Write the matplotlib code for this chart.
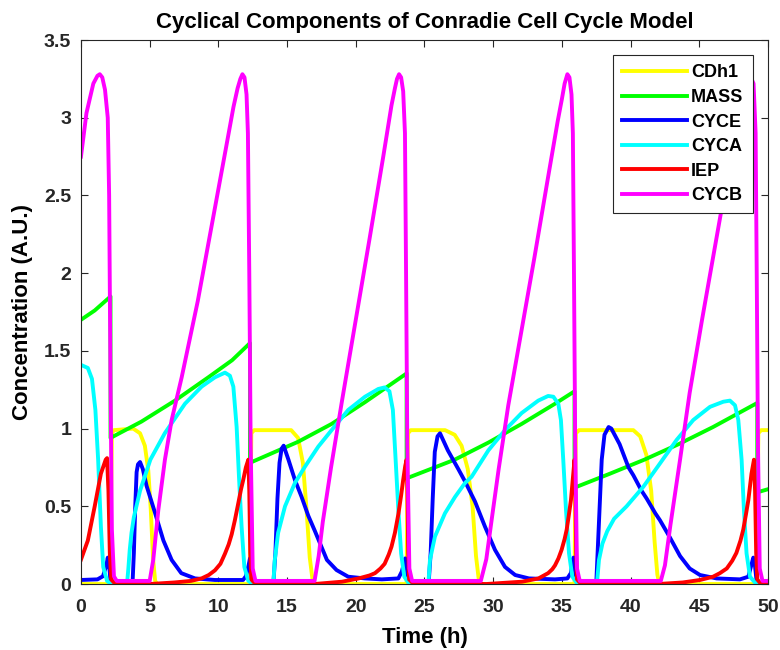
import numpy as np
import matplotlib.pyplot as plt

# values (time in h, concentration in A.U.)
cdh1_t = [0, 2.15, 2.2, 2.25, 2.4, 3.8, 4.3, 4.65, 4.9, 5.08, 5.25, 5.4, 5.55,
          12.3, 12.35, 12.4, 12.6, 15.3, 15.8, 16.15, 16.4, 16.65, 16.85, 17.0,
          23.7, 23.75, 23.8, 24.0, 26.5, 27.2, 27.7, 28.15, 28.5, 28.75, 28.95, 29.1,
          35.92, 35.97, 36.02, 36.25, 40.2, 40.7, 41.15, 41.5, 41.75, 41.95, 42.1,
          49.2, 49.25, 49.3, 49.5, 50]
cdh1_v = [0, 0, 0.6, 0.97, 0.99, 1.0, 0.97, 0.89, 0.73, 0.48, 0.16, 0.02, 0,
          0, 0.6, 0.97, 0.99, 0.99, 0.94, 0.78, 0.5, 0.17, 0.03, 0,
          0, 0.6, 0.97, 0.99, 0.99, 0.96, 0.89, 0.74, 0.5, 0.18, 0.03, 0,
          0, 0.6, 0.97, 0.99, 0.99, 0.95, 0.83, 0.6, 0.27, 0.06, 0,
          0, 0.6, 0.97, 0.99, 0.99]

mass_t = [0, 1.0, 2.15, 2.15, 4.4, 6.84, 9.27, 11.0, 12.3, 12.3, 15.8, 18.24, 20.67, 23.7,
          23.7, 27.2, 29.65, 32.07, 34.5, 35.92, 35.92, 38.5, 41.0, 43.5, 46.0, 49.22, 49.22, 50]
mass_v = [1.70, 1.76, 1.85, 0.94, 1.045, 1.18, 1.33, 1.44, 1.55, 0.78, 0.915, 1.03, 1.17, 1.355,
          0.68, 0.80, 0.91, 1.03, 1.16, 1.24, 0.62, 0.71, 0.80, 0.90, 1.01, 1.165, 0.59, 0.61]

cyce_t = [0, 1.2, 1.6, 1.85, 1.95, 2.05, 2.15, 2.3, 3.75, 3.85, 3.95, 4.05, 4.15, 4.3, 4.5,
          4.78, 5.1, 5.4, 6.0, 6.6, 7.3, 8.3, 9.75, 11.8, 12.0, 12.2, 12.3, 12.4, 12.5,
          14.0, 14.15, 14.3, 14.45, 14.6, 14.75, 15.1, 15.57, 16.06, 16.54, 17.03, 17.5, 17.9,
          18.6, 19.45, 20.67, 21.9, 23.1, 23.35, 23.6, 23.72, 23.8, 23.9,
          25.3, 25.45, 25.6, 25.75, 25.95, 26.13, 26.7, 27.46, 27.95, 28.68, 29.4, 30.13,
          30.86, 31.6, 32.6, 34.5, 35.4, 35.65, 35.85, 35.95, 36.03, 36.15,
          37.5, 37.6, 37.75, 37.9, 38.1, 38.4, 38.6, 39.2, 39.85, 40.2, 40.8, 41.17, 41.8,
          42.14, 42.86, 43.6, 44.3, 45.05, 46.26, 47.96, 48.57, 48.93, 49.05, 49.17, 49.3, 50]
cyce_v = [0.026, 0.03, 0.05, 0.12, 0.17, 0.12, 0.02, 0, 0, 0.2, 0.5, 0.72, 0.77, 0.785, 0.74,
          0.63, 0.54, 0.455, 0.28, 0.155, 0.07, 0.036, 0.026, 0.026, 0.05, 0.12, 0.165, 0.08, 0,
          0, 0.2, 0.55, 0.78, 0.87, 0.89, 0.8, 0.67, 0.56, 0.44, 0.34, 0.24, 0.155,
          0.09, 0.047, 0.036, 0.03, 0.036, 0.08, 0.165, 0.1, 0.02, 0,
          0, 0.2, 0.55, 0.85, 0.95, 0.97, 0.86, 0.74, 0.66, 0.53, 0.37, 0.22,
          0.11, 0.058, 0.036, 0.03, 0.036, 0.07, 0.17, 0.1, 0.02, 0,
          0, 0.2, 0.5, 0.8, 0.96, 1.01, 1.0, 0.9, 0.75, 0.7, 0.6, 0.55, 0.455,
          0.41, 0.3, 0.18, 0.10, 0.058, 0.036, 0.03, 0.047, 0.17, 0.12, 0.02, 0, 0]

cyca_t = [0, 0.5, 0.8, 1.05, 1.25, 1.45, 1.62, 1.9, 2.2, 3.35, 3.45, 3.55, 3.68, 3.85, 4.3,
          5.05, 6.1, 7.57, 8.78, 9.75, 10.48, 10.84, 11.09, 11.33, 11.5, 11.69, 11.89, 12.18,
          12.5, 14.0, 14.1, 14.35, 14.85, 15.57, 16.3, 17.27, 18.24, 19.45, 20.67, 21.64, 22.1,
          22.45, 22.7, 22.9, 23.1, 23.3, 23.53, 23.82, 24.0,
          25.28, 25.4, 25.76, 26.49, 27.22, 27.95, 28.43, 29.65, 30.86, 32.07, 33.28, 34.0,
          34.38, 34.74, 34.93, 35.1, 35.3, 35.52, 35.76, 36.07, 36.3,
          37.55, 37.7, 37.95, 38.3, 38.8, 39.71, 40.93, 42.14, 43.35, 44.56, 45.78, 46.75,
          47.23, 47.6, 47.84, 48.08, 48.25, 48.44, 48.69, 49.05, 49.3, 50]
cyca_v = [1.41, 1.39, 1.32, 1.12, 0.8, 0.37, 0.11, 0.02, 0, 0, 0.1, 0.22, 0.33, 0.43, 0.6,
          0.8, 0.97, 1.16, 1.27, 1.33, 1.36, 1.34, 1.27, 1.01, 0.69, 0.37, 0.11, 0.02,
          0, 0, 0.15, 0.33, 0.5, 0.65, 0.755, 0.884, 0.99, 1.12, 1.205, 1.255, 1.265,
          1.24, 1.12, 0.8, 0.476, 0.197, 0.047, 0.01, 0,
          0, 0.155, 0.305, 0.455, 0.56, 0.65, 0.69, 0.86, 0.99, 1.10, 1.18, 1.21,
          1.205, 1.16, 1.055, 0.8, 0.476, 0.197, 0.047, 0.01, 0,
          0, 0.155, 0.26, 0.34, 0.42, 0.5, 0.626, 0.776, 0.927, 1.055, 1.14, 1.173,
          1.18, 1.15, 1.055, 0.8, 0.476, 0.197, 0.047, 0.01, 0, 0]

iep_t = [0, 0.5, 1.0, 1.45, 1.8, 1.9, 2.0, 2.1, 2.2, 2.4, 5.0, 6.8, 8.0, 8.78, 9.3, 9.75,
         10.15, 10.48, 10.75, 10.97, 11.2, 11.45, 11.65, 11.81, 12.0, 12.18, 12.25, 12.32, 12.4, 12.6,
         17.0, 19.0, 20.2, 21.0, 21.4, 21.8, 22.1, 22.4, 22.6, 22.85, 23.1, 23.3, 23.45, 23.6, 23.7,
         23.76, 23.82, 23.88, 24.1,
         29.5, 32.1, 33.3, 34.0, 34.3, 34.5, 34.75, 34.98, 35.2, 35.35, 35.5, 35.66, 35.83, 35.92,
         35.98, 36.04, 36.1, 36.3,
         42.0, 43.8, 45.05, 46.0, 46.5, 47.0, 47.4, 47.7, 48.0, 48.2, 48.4, 48.57, 48.8, 48.98,
         49.06, 49.14, 49.22, 49.4, 50]
iep_v = [0.157, 0.28, 0.5, 0.71, 0.8, 0.81, 0.6, 0.2, 0.03, 0.01, 0, 0.01, 0.02, 0.036, 0.058, 0.088,
         0.13, 0.195, 0.255, 0.32, 0.41, 0.52, 0.61, 0.67, 0.75, 0.80, 0.6, 0.2, 0.03, 0.01,
         0, 0.015, 0.036, 0.055, 0.07, 0.1, 0.13, 0.19, 0.24, 0.33, 0.45, 0.57, 0.67, 0.76, 0.8,
         0.6, 0.2, 0.03, 0.01,
         0, 0.015, 0.036, 0.07, 0.095, 0.12, 0.165, 0.22, 0.29, 0.35, 0.44, 0.54, 0.71, 0.8,
         0.6, 0.2, 0.03, 0.01,
         0, 0.01, 0.026, 0.047, 0.07, 0.10, 0.15, 0.2, 0.28, 0.35, 0.45, 0.54, 0.71, 0.8,
         0.6, 0.2, 0.03, 0.01, 0]

cycb_t = [0, 0.4, 0.9, 1.2, 1.37, 1.55, 1.75, 1.95, 2.05, 2.15, 2.25, 2.4, 2.6, 5.0, 5.26, 5.63,
          6.11, 6.6, 7.33, 8.5, 9.5, 10.5, 11.1, 11.4, 11.6, 11.75, 11.9, 12.05, 12.15, 12.25,
          12.35, 12.5, 12.7,
          17.0, 17.3, 17.6, 18.2, 19.0, 20.0, 21.0, 22.0, 22.6, 22.85, 23.0, 23.15, 23.3, 23.45,
          23.58, 23.66, 23.75, 23.9, 24.1,
          29.1, 29.5, 29.9, 30.4, 31.1, 32.0, 33.0, 34.0, 34.7, 35.0, 35.2, 35.4, 35.55, 35.7,
          35.8, 35.88, 35.97, 36.1, 36.3,
          42.2, 42.5, 42.9, 43.6, 44.3, 45.2, 46.0, 47.0, 47.8, 48.3, 48.7, 48.95, 49.1,
          49.18, 49.27, 49.4, 49.6, 50]
cycb_v = [2.75, 3.03, 3.22, 3.27, 3.28, 3.26, 3.18, 3.0, 2.5, 1.3, 0.35, 0.05, 0.02, 0.02, 0.155,
          0.476, 0.8, 1.055, 1.33, 1.82, 2.3, 2.78, 3.07, 3.19, 3.25, 3.28, 3.26, 3.15, 2.9,
          2.0, 0.9, 0.1, 0.02,
          0.02, 0.18, 0.4, 0.75, 1.18, 1.7, 2.22, 2.75, 3.08, 3.19, 3.25, 3.28, 3.26, 3.17,
          2.9, 2.0, 0.9, 0.1, 0.02,
          0.02, 0.16, 0.42, 0.74, 1.15, 1.6, 2.1, 2.62, 2.98, 3.12, 3.22, 3.28, 3.26, 3.15,
          2.9, 2.0, 0.9, 0.1, 0.02,
          0.02, 0.12, 0.38, 0.8, 1.23, 1.7, 2.1, 2.6, 3.0, 3.2, 3.27, 3.22, 2.9,
          2.0, 0.9, 0.1, 0.02, 0.02]

series = [("CDh1", cdh1_t, cdh1_v, (1, 1, 0)),
          ("MASS", mass_t, mass_v, (0, 1, 0)),
          ("CYCE", cyce_t, cyce_v, (0, 0, 1)),
          ("CYCA", cyca_t, cyca_v, (0, 1, 1)),
          ("IEP", iep_t, iep_v, (1, 0, 0)),
          ("CYCB", cycb_t, cycb_v, (1, 0, 1))]

plt.rcParams['font.family'] = ['Liberation Sans', 'DejaVu Sans']
plt.rcParams['font.weight'] = 'bold'

fig = plt.figure(figsize=(7.8, 6.5), dpi=100)
ax = fig.add_axes([0.1038, 0.1015, 0.8808, 0.8369])

for name, t, v, col in series:
    ax.plot(t, v, color=col, lw=2.8, label=name, solid_joinstyle='round')

ax.set_xlim(0, 50)
ax.set_ylim(0, 3.5)
ax.set_xticks(np.arange(0, 51, 5))
ax.set_yticks(np.arange(0, 3.6, 0.5))
ax.set_yticklabels(['0', '0.5', '1', '1.5', '2', '2.5', '3', '3.5'])
ax.tick_params(direction='in', top=True, right=True, length=5, width=0.8,
               labelsize=14, colors='0.15')
ax.tick_params(axis='x', pad=11)
ax.tick_params(axis='y', pad=7)
for sp in ax.spines.values():
    sp.set_color('0.15')
    sp.set_linewidth(0.8)

ax.set_title("Cyclical Components of Conradie Cell Cycle Model", fontsize=16,
             fontweight='bold', pad=9)
ax.set_xlabel("Time (h)", fontsize=16, fontweight='bold', labelpad=8)
ax.set_ylabel("Concentration (A.U.)", fontsize=16, fontweight='bold', labelpad=8)

leg = ax.legend(loc='upper right', fontsize=13, handlelength=3.6, fancybox=False,
                framealpha=1, edgecolor='0.15', borderaxespad=0.85, labelspacing=0.42,
                borderpad=0.5, handletextpad=0.25)
leg.get_frame().set_linewidth(0.8)

plt.savefig('out.png', dpi=100)
